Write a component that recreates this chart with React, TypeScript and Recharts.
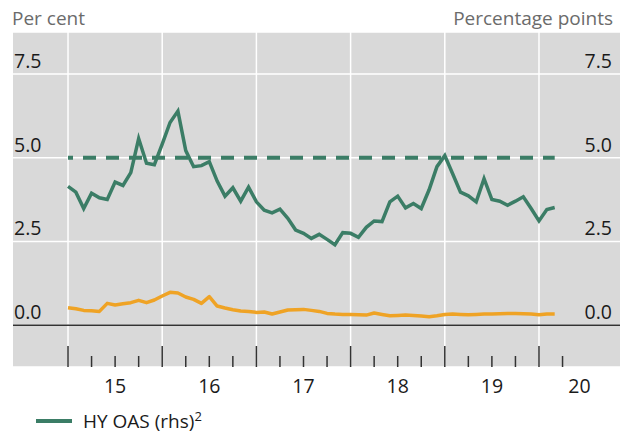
import React from 'react';
import {
  ComposedChart, Line, XAxis, YAxis, CartesianGrid, ReferenceLine, Legend,
} from 'recharts';

// monthly observations, Jan 2015 .. Mar 2020
const startYear = 2015;

// HY option-adjusted spread, percentage points (rhs)
const hyOas = [
  4.14, 3.97, 3.48, 3.94, 3.80, 3.75, 4.27, 4.17, 4.55, 5.57, 4.83, 4.79,
  5.40, 6.05, 6.39, 5.21, 4.73, 4.76, 4.88, 4.30, 3.85, 4.10, 3.70, 4.12,
  3.68, 3.43, 3.35, 3.46, 3.19, 2.84, 2.74, 2.59, 2.71, 2.56, 2.40, 2.76,
  2.74, 2.62, 2.92, 3.11, 3.09, 3.68, 3.85, 3.50, 3.63, 3.48, 4.04, 4.73,
  5.06, 4.52, 3.97, 3.86, 3.68, 4.37, 3.75, 3.70, 3.58, 3.70, 3.83, 3.48,
  3.11, 3.45, 3.51,
];

// second series, per cent (lhs)
const lhsSeries = [
  0.52, 0.49, 0.44, 0.43, 0.41, 0.65, 0.60, 0.64, 0.67, 0.74, 0.67, 0.75,
  0.87, 0.98, 0.96, 0.84, 0.77, 0.65, 0.85, 0.57, 0.51, 0.46, 0.42, 0.41,
  0.38, 0.39, 0.33, 0.39, 0.45, 0.46, 0.47, 0.44, 0.41, 0.35, 0.33, 0.32,
  0.32, 0.31, 0.30, 0.36, 0.32, 0.28, 0.29, 0.30, 0.29, 0.27, 0.25, 0.28,
  0.32, 0.33, 0.32, 0.31, 0.32, 0.33, 0.33, 0.34, 0.35, 0.35, 0.34, 0.33,
  0.31, 0.33, 0.33,
];

// long-run HY OAS reference level (dashed)
const hyAverage = 5.0;

const yTicks = [0, 2.5, 5, 7.5];
const yearTicks = [2015, 2016, 2017, 2018, 2019, 2020];
const quarterTicks = [
  2015, 2015.25, 2015.5, 2015.75, 2016, 2016.25, 2016.5, 2016.75,
  2017, 2017.25, 2017.5, 2017.75, 2018, 2018.25, 2018.5, 2018.75,
  2019, 2019.25, 2019.5, 2019.75, 2020, 2020.25,
];
const xTickLabels = ['15', '16', '17', '18', '19', '20'];
const lastLabelPos = 2020.43;

const GREEN = '#3b7d66';
const ORANGE = '#efa325';
const FONT = '"Open Sans", "Noto Sans", sans-serif';

const data = hyOas.map((v, i) => ({
  t: startYear + i / 12,
  hy: v,
  lhs: lhsSeries[i],
  avg: hyAverage,
}));

const XTick = (props: any) => {
  const { x, y, payload } = props;
  const v: number = payload.value;
  const whole = Math.floor(v);
  const frac = v - whole;
  let label: string | null = null;
  if (Math.abs(frac - 0.5) < 1e-6) label = xTickLabels[whole - 2015];
  if (v === lastLabelPos) label = xTickLabels[xTickLabels.length - 1];
  const isQuarter = quarterTicks.includes(v);
  return (
    <g>
      {isQuarter && (
        <line x1={x} x2={x} y1={y - (frac === 0 ? 21 : 11)} y2={y} stroke="#333" strokeWidth={1.5} />
      )}
      {label && (
        <text x={x} y={y + 26} textAnchor="middle" fontSize={19.5} fontFamily={FONT} fill="#1a1a1a">
          {label}
        </text>
      )}
    </g>
  );
};

const LeftTick = (props: any) => (
  <text x={14} y={props.y - 6} textAnchor="start" fontSize={19.5} fontFamily={FONT} fill="#1a1a1a">
    {Number(props.payload.value).toFixed(1)}
  </text>
);

const RightTick = (props: any) => (
  <text x={612} y={props.y - 6} textAnchor="end" fontSize={19.5} fontFamily={FONT} fill="#1a1a1a">
    {Number(props.payload.value).toFixed(1)}
  </text>
);

const renderLegend = (props: any) => {
  const items = (props.payload || []).filter((p: any) => p.dataKey === 'hy');
  return (
    <div style={{ height: 30, position: 'relative', fontFamily: FONT, fontSize: 19, color: '#1a1a1a' }}>
      {items.map((p: any) => (
        <div key={p.dataKey} style={{ position: 'absolute', left: 36, top: 0, display: 'flex', alignItems: 'center' }}>
          <svg width={36} height={6} style={{ marginRight: 11 }}>
            <line x1={0} x2={36} y1={3} y2={3} stroke={p.color} strokeWidth={4} />
          </svg>
          <span>
            {p.value}
            <sup style={{ fontSize: 13 }}>2</sup>
          </span>
        </div>
      ))}
    </div>
  );
};

export default function App() {
  return (
    <div style={{ position: 'absolute', left: 0, top: 0, width: 623, height: 437, background: '#fff' }}>
      <div style={{ position: 'absolute', left: 12, top: 6, fontFamily: FONT, fontSize: 19, color: '#6b6b6b', lineHeight: '24px' }}>
        Per cent
      </div>
      <div style={{ position: 'absolute', right: 10, top: 6, fontFamily: FONT, fontSize: 19, color: '#6b6b6b', lineHeight: '24px' }}>
        Percentage points
      </div>
      <ComposedChart
        width={623}
        height={437}
        data={data}
        margin={{ top: 32, right: 3, bottom: 0, left: 13 }}
      >
        <CartesianGrid
          yAxisId="left"
          vertical={false}
          stroke="#fff"
          strokeWidth={1.5}
          fill="#d9d9d9"
          fillOpacity={1}
        />
        <XAxis
          dataKey="t"
          type="number"
          domain={[2014.416, 2020.86]}
          ticks={[...quarterTicks, lastLabelPos]}
          interval={0}
          tick={<XTick />}
          tickLine={false}
          tickSize={0}
          tickMargin={0}
          axisLine={false}
          height={40}
        />
        <YAxis
          yAxisId="left"
          mirror
          domain={[-1.25, 8.75]}
          ticks={yTicks}
          tick={<LeftTick />}
          axisLine={false}
          tickLine={false}
        />
        <YAxis
          yAxisId="right"
          orientation="right"
          mirror
          domain={[-1.25, 8.75]}
          ticks={yTicks}
          tick={<RightTick />}
          axisLine={false}
          tickLine={false}
        />
        {yearTicks.map((yr) => (
          <ReferenceLine key={yr} yAxisId="left" x={yr} stroke="#fff" strokeWidth={1.5} />
        ))}
        <ReferenceLine yAxisId="left" y={0} stroke="#333" strokeWidth={1.5} />
        <Line
          yAxisId="left"
          dataKey="lhs"
          name="Per cent (lhs)"
          stroke={ORANGE}
          strokeWidth={3.5}
          dot={false}
          isAnimationActive={false}
          strokeLinejoin="round"
        />
        <Line
          yAxisId="right"
          dataKey="avg"
          name="Average"
          stroke={GREEN}
          strokeWidth={4}
          strokeDasharray="13 10"
          strokeDashoffset={8}
          dot={false}
          isAnimationActive={false}
        />
        <Line
          yAxisId="right"
          dataKey="hy"
          name="HY OAS (rhs)"
          stroke={GREEN}
          strokeWidth={3.5}
          dot={false}
          isAnimationActive={false}
          strokeLinejoin="miter"
        />
        <Legend verticalAlign="bottom" height={30} content={renderLegend} wrapperStyle={{ left: 0, width: 623 }} />
      </ComposedChart>
    </div>
  );
}
